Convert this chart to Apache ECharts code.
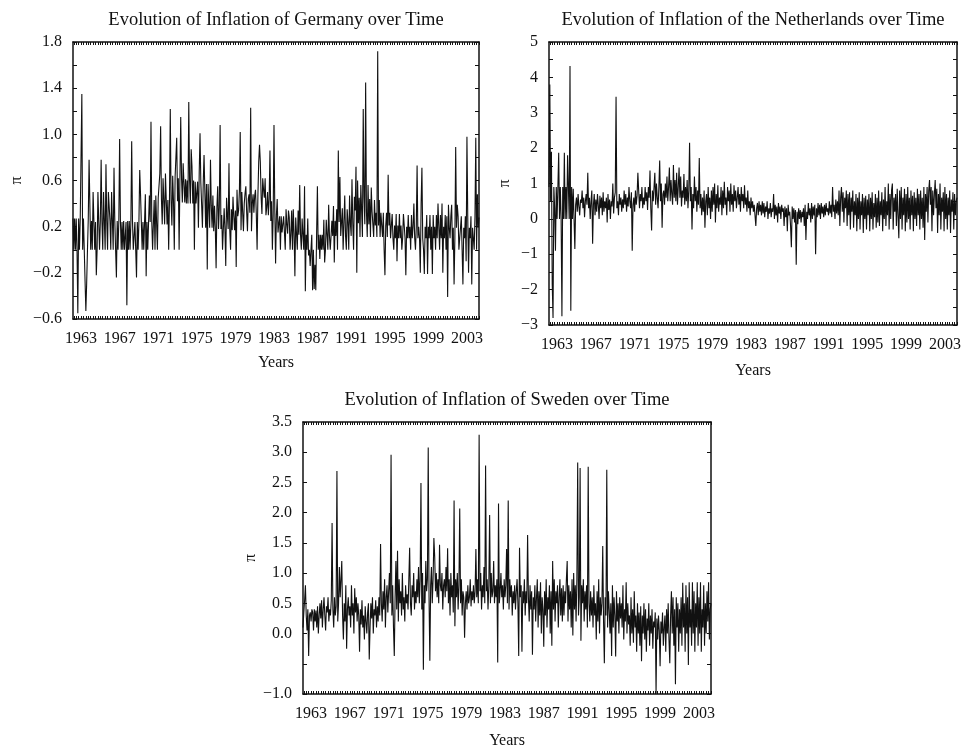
<!DOCTYPE html>
<html>
<head>
<meta charset="utf-8">
<script src="https://cdn.jsdelivr.net/npm/echarts@6/dist/echarts.min.js"></script>
<style>
  html, body {margin: 0; padding: 0; background: #fff;}
  #chart {width: 964px; height: 750px;}
</style>
</head>
<body>
<div id="chart"></div>
<script>
// monthly inflation, first value is March 1962
const startYear = 1962;
const startMonth = 3;

const germany = [
  0.27, 0.0, 0.27, 0.0, 0.27, 0.0, -0.55, 0.27, 0.0, 0.27,
  0.27, 1.35, 0.0, 0.27, 0.0, -0.27, -0.53, -0.29, 0.0, 0.27, 0.78, 0.77,
  0.0, 0.25, 0.0, 0.5, 0.25, 0.0, 0.24, -0.22, 0.0, 0.5, 0.25, 0.0,
  0.25, 0.78, 0.25, 0.0, 0.5, 0.25, 0.0, 0.74, 0.25, 0.0, 0.5, 0.49,
  0.25, 0.0, 0.5, 0.25, 0.0, 0.71, 0.25, 0.0, -0.24, 0.25, 0.0, 0.25,
  0.96, 0.25, 0.0, 0.24, 0.0, 0.25, 0.0, 0.0, 0.24, -0.48, 0.25, 0.0,
  0.25, 0.0, 0.24, 0.94, 0.25, 0.0, 0.0, 0.24, 0.0, -0.24, 0.24, 0.0,
  0.24, 0.69, 0.48, 0.24, 0.0, 0.24, 0.0, 0.24, 0.48, -0.23, 0.24, 0.0,
  0.24, 0.47, 0.24, 1.11, 0.24, 0.0, 0.23, 0.43, 0.0, 0.47, 0.23, 0.0,
  0.45, 0.44, 0.66, 1.07, 0.44, 0.22, 0.62, 0.43, 0.22, 0.66, 0.43, 0.22,
  0.43, 0.0, 0.43, 1.22, 0.43, 0.21, 0.64, 0.42, 0.0, 0.63, 0.80, 0.97,
  0.42, 0.62, 0.0, 0.62, 1.15, 0.62, 0.41, 0.75, 0.74, 0.41, 0.61, 0.40,
  0.60, 0.40, 1.28, 0.60, 0.40, 0.87, 0.72, 0.40, 0.60, 0.0, 0.59, 0.40,
  0.39, 0.59, 0.19, 0.67, 1.01, 0.58, 0.39, 0.19, 0.58, 0.82, 0.81, 0.19,
  0.57, -0.17, 0.57, 0.38, 0.19, 0.78, 0.38, 0.19, 0.47, 0.16, 0.38, 0.19,
  -0.16, 0.37, 0.55, 0.18, 0.37, 1.08, 0.18, 0.30, 0.0, 0.18, 0.36, 0.18,
  -0.14, 0.45, 0.30, 0.18, 0.75, 0.17, 0.0, 0.35, 0.17, 0.46, 0.29, 0.17,
  0.34, -0.15, 0.52, 0.29, 0.34, 0.51, 1.02, 0.17, 0.50, 0.33, 0.16, 0.40,
  0.49, 0.55, 0.33, 0.16, 0.44, 0.48, 0.32, 1.23, 0.16, 0.40, 0.48, 0.32,
  0.47, 0.52, 0.31, 0.0, 0.47, 0.76, 0.91, 0.76, 0.46, 0.31, 0.62, 0.52,
  0.45, 0.62, 0.30, 0.37, 0.50, 0.30, 0.44, 0.86, 0.25, 0.42, 0.0, 0.30,
  1.08, 0.35, -0.12, 0.30, 0.44, 0.15, 0.23, 0.29, 0.0, 0.29, 0.15, 0.22,
  0.29, 0.15, 0.0, 0.35, 0.22, 0.14, 0.34, 0.28, 0.0, 0.14, 0.34, 0.0,
  0.35, 0.14, -0.23, 0.28, 0.14, 0.0, 0.34, 0.13, 0.56, 0.13, 0.0, 0.27,
  0.13, 0.0, 0.55, -0.36, 0.13, 0.0, 0.27, -0.05, 0.0, -0.14, 0.0, 0.13,
  -0.35, 0.0, -0.34, -0.13, -0.35, 0.13, 0.55, 0.0, 0.13, -0.08, 0.13, 0.0,
  0.13, 0.0, 0.26, -0.11, 0.0, 0.26, 0.13, 0.0, 0.39, 0.12, 0.0, 0.12,
  0.25, 0.12, 0.38, -0.11, 0.25, 0.12, 0.35, 0.0, 0.86, 0.24, 0.63, 0.12,
  0.24, 0.36, 0.0, 0.24, 0.47, 0.12, 0.0, 0.35, 0.24, 0.0, 0.47, 0.23,
  0.12, 0.61, 0.23, 0.0, 0.46, 0.34, 0.72, -0.20, 0.60, 0.23, 0.45, 0.11,
  0.56, 0.34, 0.11, 1.22, 0.45, 0.22, 1.45, 0.33, 0.11, 0.56, 0.22, 0.44,
  0.11, 0.54, 0.33, 0.22, 0.11, 0.43, 0.21, 0.32, 0.11, 1.72, 0.21, 0.43,
  0.11, 0.32, 0.21, 0.11, 0.32, 0.0, -0.22, 0.21, 0.32, 0.11, 0.65, 0.21,
  0.32, 0.10, 0.21, 0.31, 0.10, 0.0, 0.21, 0.10, 0.31, -0.10, 0.21, 0.10,
  0.31, 0.10, 0.21, 0.0, 0.10, 0.31, 0.21, 0.10, -0.22, 0.20, 0.10, 0.30,
  0.10, 0.20, 0.0, 0.30, 0.10, 0.20, 0.40, 0.10, 0.0, 0.20, 0.73, 0.10,
  0.20, 0.10, -0.20, 0.40, 0.71, 0.10, 0.0, -0.21, 0.20, 0.10, 0.30, -0.21,
  0.20, 0.10, 0.30, 0.0, 0.20, -0.21, 0.30, 0.10, 0.20, 0.0, 0.30, 0.10,
  0.40, 0.20, 0.0, 0.30, 0.10, 0.40, -0.20, 0.20, 0.10, 0.30, 0.0, 0.29,
  -0.41, 0.39, 0.19, 0.10, 0.29, 0.39, 0.0, 0.19, -0.30, 0.10, 0.89, 0.19,
  0.39, 0.29, 0.0, 0.10, 0.19, 0.29, 0.0, -0.30, 0.19, 0.10, 0.29, -0.10,
  0.98, 0.29, -0.20, 0.19, 0.10, 0.29, -0.30, 0.19, 0.10, 0.0, 0.29, 0.97,
  0.0, 0.48, 0.19, 0.28
];

const netherlands = [
  0.9, 3.8, 0.5, 1.9, -1.85, -2.8, 0.9, 0.3, -0.9, 0.9,
  0.0, 0.9, 1.87, 0.0, 0.9, 0.0, -2.75, 0.9, 0.0, 1.87, 0.0, 0.9,
  0.0, 1.8, 0.9, 0.0, 4.32, -2.6, 0.9, 0.0, 0.85, 0.0, -0.85, 0.4,
  0.6, 0.2, 0.7, 0.35, 0.1, 0.55, 0.45, 0.8, 0.3, 0.6, 0.05, 0.5,
  0.7, 0.4, 1.3, 0.3, 0.6, 0.0, 0.5, 0.8, -0.7, 0.4, 0.7, 0.1,
  0.55, 0.2, 0.7, 0.4, 0.0, 0.65, 0.3, 0.6, 0.1, 0.75, 0.2, 0.5,
  0.3, 0.6, -0.1, 0.7, 0.25, 0.55, 0.0, 0.5, 0.35, 1.0, 0.15, 0.6,
  0.75, 3.45, 0.3, 0.5, 0.1, 0.7, 0.4, 0.6, 0.2, 0.55, 0.3, 0.8,
  0.4, 0.7, 0.2, 0.6, 0.35, 0.9, 0.5, 0.3, 0.75, -0.9, 0.4, 0.6,
  0.2, 0.8, 0.4, 0.65, 1.3, 1.28, 0.3, 0.7, 0.5, 0.9, 0.3, 0.6,
  0.4, 0.9, 0.5, 0.75, 0.25, 0.9, 0.6, 1.37, 0.3, -0.33, 0.8, 0.5,
  0.9, 1.3, 0.4, 1.0, 0.6, 0.3, 0.9, 1.65, 0.5, 1.0, -0.25, 0.7,
  0.8, 0.4, 1.0, 0.6, 1.2, 0.5, 0.9, 1.45, 0.5, 1.1, 0.7, 0.4,
  1.52, 0.6, 1.1, 0.5, 1.3, 0.4, 0.9, 1.45, 0.6, 1.2, 0.35, 0.8,
  0.6, 1.27, 0.4, 0.9, 0.5, 1.1, 0.3, 0.8, 2.15, 0.5, 0.9, -0.3,
  0.7, 0.3, 1.2, 0.5, 0.9, 0.2, 0.8, 0.4, 1.72, 0.3, 0.7, 0.1,
  0.6, 0.2, 0.8, -0.25, 0.5, 0.7, 0.1, 0.9, 0.3, 0.6, 0.0, 0.8,
  0.2, 0.9, 0.4, 1.0, -0.1, 0.7, 0.3, 0.95, 0.2, 0.6, 0.4, 0.9,
  0.1, 0.8, 0.3, 1.05, 0.4, 0.6, 0.1, 0.9, 0.5, 0.8, 0.2, 1.0,
  0.4, 0.7, 0.2, 0.95, 0.5, 0.8, 0.3, 0.6, 0.9, 0.4, 0.7, 0.2,
  0.9, 0.5, 0.7, 0.3, 0.95, 0.4, 0.6, 0.2, 0.8, 0.3, 0.5, 0.1,
  0.6, 0.3, 0.5, 0.2, 0.4, 0.1, -0.2, 0.3, 0.45, 0.1, 0.5, 0.2,
  0.4, 0.1, 0.5, 0.15, 0.45, 0.05, 0.35, 0.2, 0.5, 0.0, 0.3, 0.15,
  0.45, 0.05, 0.3, 0.2, 0.7, 0.0, 0.4, 0.1, 0.35, -0.1, 0.45, 0.15,
  0.35, 0.0, 0.4, 0.2, 0.3, -0.2, 0.35, 0.05, 0.3, -0.35, 0.4, 0.1,
  0.2, -0.2, -0.8, 0.35, 0.0, 0.3, -0.1, 0.25, -1.3, 0.2, -0.15, 0.3,
  0.0, 0.25, -0.1, 0.2, 0.05, 0.3, -0.2, 0.4, -0.6, 0.2, 0.0, 0.45,
  0.1, 0.3, -0.1, 0.45, 0.0, 0.35, 0.1, 0.4, -1.0, 0.3, 0.05, 0.45,
  0.1, 0.4, 0.0, 0.45, 0.15, 0.35, 0.05, 0.4, 0.1, 0.45, 0.2, 0.3,
  0.1, 0.5, 0.15, 0.4, 0.05, 0.9, 0.2, 0.4, 0.0, 0.55, 0.15, 0.5,
  0.1, 0.8, -0.2, 0.6, 0.9, 0.2, 0.75, -0.1, 0.6, 0.3, 0.8, -0.2,
  0.7, 0.1, 0.75, -0.3, 0.6, 0.2, 0.8, -0.25, 0.5, 0.1, 0.7, -0.35,
  0.6, 0.0, 0.75, -0.3, 0.5, 0.1, 0.7, -0.4, 0.6, 0.0, 0.65, -0.3,
  0.55, 0.1, 0.7, -0.35, 0.6, 0.0, 0.75, -0.3, 0.45, 0.05, 0.7, -0.25,
  0.6, -0.1, 0.8, -0.2, 0.5, 0.1, 0.75, -0.35, 0.55, 0.0, 0.9, -0.2,
  0.5, 0.1, 1.0, -0.3, 0.7, 0.0, 0.8, 1.0, -0.3, 0.6, 0.2, 0.7,
  -0.2, 0.85, 0.1, -0.55, 0.8, 0.0, 0.9, -0.3, 0.6, 0.1, 0.85, -0.35,
  0.7, -0.1, 0.9, 0.0, 0.6, -0.3, 0.8, 0.1, 0.65, -0.35, 0.75, 0.0,
  0.6, -0.2, 0.85, 0.1, 0.7, -0.3, 0.8, 0.0, 0.6, -0.25, 0.9, -0.6,
  0.7, 0.2, 0.9, -0.1, 0.8, 1.1, 0.4, 0.9, -0.35, 0.8, 0.1, 0.7,
  1.1, 0.3, 0.85, -0.4, 0.7, 0.1, 1.0, -0.3, 0.6, 0.2, 0.75, -0.35,
  0.9, 0.0, 0.7, -0.3, 0.6, 0.1, 0.8, -0.4, 0.55, 0.2, 0.75, -0.3,
  0.7, 0.1, 0.5, 0.6
];

const sweden = [
  0.1, 0.35, 0.55, 0.8, 0.3, 0.05, 0.4, -0.37, 0.3, 0.35,
  0.2, 0.4, 0.35, 0.05, 0.4, 0.2, 0.38, 0.1, 0.45, 0.0, 0.3, 0.5,
  0.25, 0.55, 0.1, 0.4, 0.6, 0.3, 0.05, 0.45, 0.35, 0.6, 0.2, 0.4,
  0.3, 0.55, 1.83, 0.4, 0.1, 0.6, 0.3, 0.45, 2.69, 0.2, 0.5, 1.1,
  0.6, 0.9, 1.2, 0.3, -0.1, 0.5, 0.2, 0.8, -0.25, 0.4, 0.6, 0.3,
  0.45, 0.1, 0.8, 0.3, 0.5, 0.0, 0.75, 0.35, 0.6, 0.2, 0.5, 0.3,
  -0.3, 0.4, 0.15, 0.55, 0.1, 0.3, -0.1, 0.45, 0.2, 0.0, 0.35, 0.5,
  -0.43, 0.1, 0.5, 0.25, 0.6, 0.0, 0.4, 0.3, 0.55, 0.1, 0.45, 0.2,
  0.6, 0.3, 1.48, 0.5, 0.2, 0.7, 0.4, 0.9, 0.1, 0.6, 0.8, 0.35,
  0.7, 1.0, 0.5, 2.96, 0.3, 0.8, 0.1, -0.37, 0.6, 1.2, 0.4, 1.37,
  0.2, 0.9, 0.5, 0.7, 0.3, 1.0, 0.4, 0.6, 0.2, 0.8, 0.5, 0.65,
  0.4, 0.9, 1.42, 0.5, 0.3, 0.8, 0.6, 1.0, 0.4, 0.7, 0.5, 0.9,
  0.6, 1.1, 0.5, 0.9, 2.49, 0.4, 1.0, -0.6, 0.8, 0.5, 1.2, 0.7,
  0.9, 3.08, 0.6, -0.45, 0.8, 1.1, 0.5, 0.9, 1.58, 1.28, 0.7, 1.0,
  0.6, 0.9, 0.5, 1.47, 0.8, 0.7, 1.0, 0.4, 0.8, 0.9, 0.6, 1.1,
  0.7, 1.41, 0.5, 0.9, 0.3, 1.0, 0.6, 0.8, 0.35, 2.2, 0.12, 0.9,
  0.6, 1.0, 0.4, 0.8, 2.07, 0.5, 0.9, 0.3, 0.7, 0.6, -0.07, 0.5,
  0.7, 0.4, 0.8, 0.5, 0.6, 0.9, 0.45, 0.7, 0.55, 0.8, 0.5, 0.7,
  1.4, 0.6, 0.9, 0.5, 3.29, 0.7, 1.0, 0.4, 0.8, 0.6, 1.1, 0.5,
  2.78, 0.7, 0.9, 0.4, 0.8, 1.96, 0.5, 1.0, 0.6, 0.7, 1.2, 0.5,
  0.8, 0.6, 0.9, -0.48, 2.15, 0.5, 0.7, 1.0, 0.6, 0.8, 0.4, 0.9,
  0.6, 0.8, 1.4, 0.5, 2.2, 0.4, 0.9, 0.6, 0.8, 0.3, 0.7, 0.5,
  0.8, 0.4, 0.7, 0.9, 0.5, -0.37, 1.42, 0.6, 0.8, -0.3, 0.7, 0.5,
  0.9, 0.3, 0.7, 0.5, 1.63, 0.6, 0.2, 0.8, 0.4, 0.7, -0.35, 0.6,
  0.4, 0.8, 0.2, 0.6, 0.9, 0.1, 0.7, 0.3, 0.85, 0.0, 0.6, 0.4,
  -0.22, 0.7, 0.3, 0.9, 0.1, 0.6, 0.4, 0.8, 0.0, 0.7, -0.2, 1.2,
  0.4, 0.9, 0.2, 0.7, 0.5, 0.8, 0.1, 0.6, 0.9, 0.3, 0.75, 0.2,
  0.8, 0.3, 0.7, 0.5, 0.9, 1.2, 0.2, 0.8, 0.4, 0.7, 0.1, 0.9,
  -0.03, 1.0, 0.4, 0.8, 0.2, 0.9, 2.83, 0.3, 0.6, 2.74, -0.12, 0.8,
  0.5, 0.9, 0.2, 0.7, 0.4, 0.8, 0.1, 2.76, 0.5, 0.2, 0.7, 0.3,
  0.6, 0.1, 0.8, 0.3, 0.5, -0.1, 0.7, 0.2, 0.9, 0.0, 0.6, 0.3,
  0.5, 1.45, 0.2, -0.49, 0.6, 0.3, 2.71, 0.1, 0.7, 0.4, 0.0, 0.5,
  -0.37, 0.8, 0.1, 0.6, 0.3, -0.38, 0.7, 0.2, 0.5, 0.0, 0.6, 0.25,
  0.5, 0.1, 0.8, -0.1, 0.4, 0.2, 0.85, 0.0, 0.5, 0.15, 0.3, -0.2,
  0.6, 0.0, 0.4, -0.15, 0.7, 0.1, 0.3, -0.3, 0.5, 0.0, 0.35, -0.2,
  0.45, -0.46, 0.3, 0.0, 0.5, -0.1, 0.4, -0.3, 0.25, 0.05, 0.5, -0.2,
  0.3, 0.0, 0.4, -0.25, 0.2, 0.1, 0.35, -0.99, 0.25, -0.1, 0.3, 0.05,
  -0.54, 0.2, 0.0, 0.35, -0.2, 0.1, 0.3, -0.3, 0.4, 0.0, 0.5, -0.1,
  -0.49, 0.3, 0.7, 0.0, 0.6, -0.2, 0.4, -0.84, 0.6, 0.1, 0.5, -0.3,
  0.4, 0.0, 0.6, -0.2, 0.84, 0.1, 0.5, -0.3, 0.8, 0.0, 0.6, -0.52,
  0.85, 0.1, 0.4, -0.2, 0.85, 0.0, 0.7, -0.3, 0.5, 0.1, 0.85, -0.2,
  0.6, 0.0, 0.85, -0.3, 0.4, 0.1, 0.8, -0.2, 0.5, 0.0, 0.7, 0.2,
  0.85, -0.1, 0.4, 0.5
];

const yearLabels = [1963, 1967, 1971, 1975, 1979, 1983, 1987, 1991, 1995, 1999, 2003];

const germanyLabels = [-0.6, -0.2, 0.2, 0.6, 1.0, 1.4, 1.8];
const germanyTicks = [-0.6, -0.4, -0.2, 0, 0.2, 0.4, 0.6, 0.8, 1.0, 1.2, 1.4, 1.6, 1.8];
const netherlandsLabels = [-3, -2, -1, 0, 1, 2, 3, 4, 5];
const netherlandsTicks = [-3, -2.5, -2, -1.5, -1, -0.5, 0, 0.5, 1, 1.5, 2, 2.5, 3, 3.5, 4, 4.5, 5];
const swedenLabels = [-1.0, 0.0, 0.5, 1.0, 1.5, 2.0, 2.5, 3.0, 3.5];
const swedenTicks = [-1.0, -0.5, 0.0, 0.5, 1.0, 1.5, 2.0, 2.5, 3.0, 3.5];

const FONT = '"Liberation Serif", "DejaVu Serif", serif';
const INK = '#111';
const tMin = startYear + (startMonth - 1) / 12;
const tMax = tMin + (germany.length - 1) / 12;

const toSeries = arr => arr.map((v, i) => [startYear + (startMonth - 1 + i) / 12, v]);

// small ticks along top and bottom, every quarter year
const xTicks = [];
for (let y = 1962.25; y <= 2004.25; y += 0.25) xTicks.push(y);

const minus = s => s.replace('-', '\u2212');

const panels = [
  {name: 'Germany', title: 'Evolution of Inflation of Germany over Time', data: germany,
    box: {left: 73, top: 42, width: 406, height: 277},
    min: -0.6, max: 1.8, labels: germanyLabels, ticks: germanyTicks, digits: 1, piGap: 48, yearsGap: 36},
  {name: 'the Netherlands', title: 'Evolution of Inflation of the Netherlands over Time', data: netherlands,
    box: {left: 549, top: 42, width: 408, height: 283},
    min: -3, max: 5, labels: netherlandsLabels, ticks: netherlandsTicks, digits: 0, piGap: 36, yearsGap: 38},
  {name: 'Sweden', title: 'Evolution of Inflation of Sweden over Time', data: sweden,
    box: {left: 303, top: 422, width: 408, height: 276},
    min: -1, max: 3.5, labels: swedenLabels, ticks: swedenTicks, digits: 1, piGap: 44, yearsGap: 39}
];

const axisLine = {show: true, onZero: false, lineStyle: {color: INK, width: 1.5}};
const labelStyle = {fontFamily: FONT, fontSize: 16, color: INK};

const chart = echarts.init(document.getElementById('chart'), null, {renderer: 'canvas'});

const option = {
  animation: false,
  backgroundColor: '#fff',
  title: panels.map(p => ({
    text: p.title,
    left: p.box.left + p.box.width / 2,
    top: p.box.top - 31,
    textAlign: 'center',
    padding: 0,
    textStyle: {fontFamily: FONT, fontSize: 18.5, fontWeight: 'normal', color: INK}
  })),
  grid: panels.map(p => ({...p.box, containLabel: false})),
  xAxis: [],
  yAxis: [],
  series: []
};

panels.forEach((p, i) => {
  option.xAxis.push({
    gridIndex: i, type: 'value', position: 'bottom', min: tMin, max: tMax,
    axisLine: axisLine,
    axisTick: {show: true, inside: true, length: 3, customValues: xTicks, lineStyle: {color: INK, width: 1}},
    axisLabel: {...labelStyle, margin: 12, customValues: yearLabels, formatter: v => String(Math.round(v))},
    splitLine: {show: false},
    name: 'Years', nameLocation: 'middle', nameGap: p.yearsGap,
    nameTextStyle: {...labelStyle}
  });
  option.xAxis.push({
    gridIndex: i, type: 'value', position: 'top', min: tMin, max: tMax,
    axisLine: axisLine,
    axisTick: {show: true, inside: true, length: 3, customValues: xTicks, lineStyle: {color: INK, width: 1}},
    axisLabel: {show: false},
    splitLine: {show: false}
  });
  option.yAxis.push({
    gridIndex: i, type: 'value', position: 'left', min: p.min, max: p.max,
    axisLine: axisLine,
    axisTick: {show: true, inside: true, length: 4, customValues: p.ticks, lineStyle: {color: INK, width: 1}},
    axisLabel: {...labelStyle, margin: 11, customValues: p.labels,
      formatter: v => minus(Number(v).toFixed(p.digits))},
    splitLine: {show: false},
    name: '\u03c0', nameLocation: 'middle', nameRotate: 90, nameGap: p.piGap,
    nameTextStyle: {...labelStyle}
  });
  option.yAxis.push({
    gridIndex: i, type: 'value', position: 'right', min: p.min, max: p.max,
    axisLine: axisLine,
    axisTick: {show: true, inside: true, length: 4, customValues: p.ticks, lineStyle: {color: INK, width: 1}},
    axisLabel: {show: false},
    splitLine: {show: false}
  });
  option.series.push({
    name: p.name, type: 'line', xAxisIndex: i * 2, yAxisIndex: i * 2,
    data: toSeries(p.data), showSymbol: false, symbol: 'none',
    lineStyle: {color: INK, width: 1.1}, clip: true
  });
});

chart.setOption(option);
</script>
</body>
</html>
